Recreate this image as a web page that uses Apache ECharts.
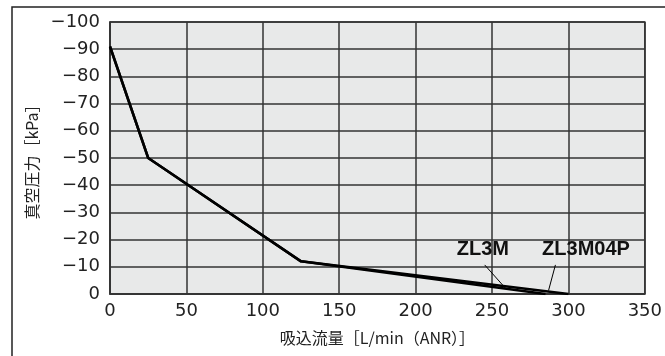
<!DOCTYPE html>
<html><head><meta charset="utf-8">
<script src="https://cdn.jsdelivr.net/npm/echarts@6/dist/echarts.min.js"></script>
<style>html,body{margin:0;padding:0;background:#fff}#c{width:665px;height:356px}</style>
</head><body><div id="c"></div>
<script>
const xTicks = [0, 50, 100, 150, 200, 250, 300, 350];
const yTicks = [-100, -90, -80, -70, -60, -50, -40, -30, -20, -10, 0];
const zl3mX = [0, 25, 125, 285];
const zl3mY = [-91, -50, -12, 0];
const zl3m04pX = [0, 25, 125, 300];
const zl3m04pY = [-91, -50, -12, 0];
const seriesNames = ['ZL3M', 'ZL3M04P'];
const labelPos = [[244, -16.2], [311.5, -16.2]];
const leaderLines = [[[245.2, -10.7], [258.7, -2.2]], [[291.5, -10.7], [287, -1.3]]];
const xName = '吸込流量［L/min（ANR）］';
const yName = '真空圧力［kPa］';

const numFont = '"DejaVu Sans","Noto Sans CJK JP",sans-serif';
const boldFont = '"Liberation Sans",Arial,sans-serif';
const cjkFont = '"Noto Sans CJK JP","DejaVu Sans",sans-serif';
const chart = echarts.init(document.getElementById('c'), null, {renderer: 'canvas'});
function pairs(xs, ys) { return xs.map((x, i) => [x, ys[i]]); }
chart.setOption({
  animation: false,
  graphic: [{
    type: 'rect', shape: {x: 12, y: 7, width: 700, height: 400},
    style: {fill: 'none', stroke: '#222', lineWidth: 1.5}, z: -1
  }],
  grid: {left: 110, right: 11, top: 22, bottom: 62, show: true,
    backgroundColor: '#e8e9e9', borderColor: '#333', borderWidth: 1.5},
  xAxis: {
    type: 'value', min: xTicks[0], max: xTicks[xTicks.length - 1], interval: 50,
    name: xName, nameLocation: 'middle', nameGap: 36,
    nameTextStyle: {fontSize: 16, color: '#222', fontFamily: cjkFont},
    axisLine: {show: true, lineStyle: {color: '#333', width: 1.5}},
    axisTick: {show: false},
    axisLabel: {fontSize: 18, color: '#222', fontFamily: numFont, margin: 8},
    splitLine: {show: true, lineStyle: {color: '#333', width: 1.5}}
  },
  yAxis: {
    type: 'value', min: yTicks[0], max: yTicks[yTicks.length - 1], interval: 10, inverse: true,
    name: yName, nameLocation: 'middle', nameGap: 66, nameRotate: 90,
    nameTextStyle: {fontSize: 16, color: '#222', fontFamily: cjkFont},
    axisLine: {show: true, lineStyle: {color: '#333', width: 1.5}},
    axisTick: {show: false},
    axisLabel: {fontSize: 18, color: '#222', fontFamily: numFont, margin: 10,
      formatter: v => v < 0 ? '\u2212' + Math.abs(v) : String(v)},
    splitLine: {show: true, lineStyle: {color: '#333', width: 1.5}}
  },
  series: [
    {name: seriesNames[0], type: 'line', data: pairs(zl3mX, zl3mY), symbol: 'none',
      lineStyle: {color: '#000', width: 2.5},
      markLine: {silent: true, symbol: 'none', label: {show: false},
        lineStyle: {color: '#000', width: 1, type: 'solid'},
        data: [[{coord: leaderLines[0][0]}, {coord: leaderLines[0][1]}]]},
      markPoint: {symbol: 'circle', symbolSize: 0,
        data: [{coord: labelPos[0], label: {show: true, formatter: seriesNames[0], position: 'inside',
          fontSize: 20, fontWeight: 'bold', color: '#111', fontFamily: boldFont}}]}
    },
    {name: seriesNames[1], type: 'line', data: pairs(zl3m04pX, zl3m04pY), symbol: 'none',
      lineStyle: {color: '#000', width: 2.5},
      markLine: {silent: true, symbol: 'none', label: {show: false},
        lineStyle: {color: '#000', width: 1, type: 'solid'},
        data: [[{coord: leaderLines[1][0]}, {coord: leaderLines[1][1]}]]},
      markPoint: {symbol: 'circle', symbolSize: 0,
        data: [{coord: labelPos[1], label: {show: true, formatter: seriesNames[1], position: 'inside',
          fontSize: 20, fontWeight: 'bold', color: '#111', fontFamily: boldFont}}]}
    }
  ]
});
</script></body></html>
